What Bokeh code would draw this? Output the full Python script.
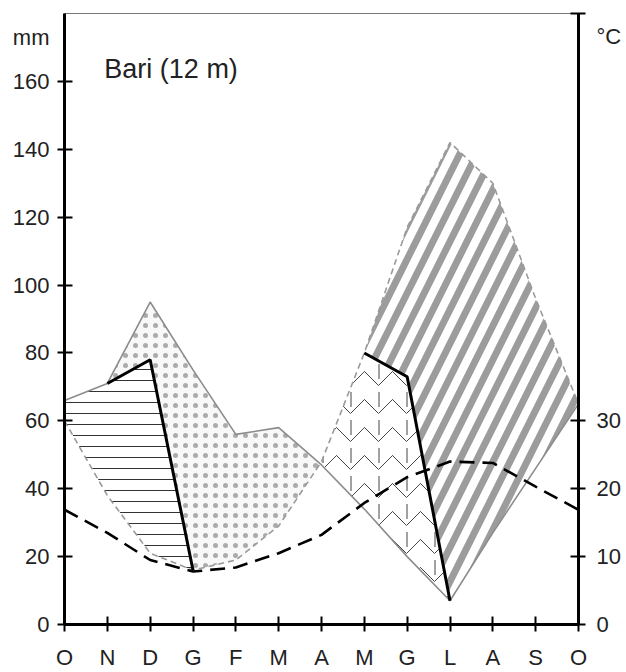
import numpy as np
from bokeh.plotting import figure
from bokeh.models import Range1d, LinearAxis, FixedTicker, Label
from bokeh.embed import file_html
from bokeh.resources import INLINE

# ---- data ----
months = ["O", "N", "D", "G", "F", "M", "A", "M", "G", "L", "A", "S", "O"]
precip = [66, 71, 95, 75, 56, 58, 47, 34, 20, 7, 27, 46, 65]          # mm, thin solid
pet = [60, 38, 21, 16, 19, 29, 48, 80, 117, 142, 130, 96, 65]         # mm, thin dashed
temp = [16.9, 13.5, 9.5, 7.8, 8.4, 10.5, 13.2, 17.9, 21.7, 24.0, 23.8, 20.3, 16.9]  # degC
soil_left_idx = [1, 2, 3]
soil_left = [71, 78, 16]
soil_right_idx = [7, 8, 9]
soil_right = [80, 73, 7]
mm_ticks = [0, 20, 40, 60, 80, 100, 120, 140, 160]
c_ticks = [0, 10, 20, 30]
mm_unit = "mm"
c_unit = "°C"
MM_MAX = 180
C_MAX = 90

x = list(range(len(months)))
P = np.array(precip, dtype=float)
E = np.array(pet, dtype=float)

# crossing of P and PET (surplus -> utilization)
d = P - E
i = next(k for k in range(1, 9) if d[k] > 0 and d[k + 1] <= 0)
t = d[i] / (d[i] - d[i + 1])
xc = i + t
yc = P[i] + t * (P[i + 1] - P[i])

FONT = "Liberation Sans"

p = figure(width=624, height=672, x_range=Range1d(0, 12), y_range=Range1d(0, MM_MAX),
           output_backend="svg", toolbar_location=None,
           min_border_left=64, min_border_right=44, min_border_top=13, min_border_bottom=47)
p.extra_y_ranges = {"temp": Range1d(0, C_MAX)}
p.grid.visible = False
p.outline_line_color = "#777777"
p.outline_line_width = 1
p.background_fill_color = "white"
p.border_fill_color = "white"

# ---- filled areas ----
# recharge (horizontal lines)
rx = [0, 1] + soil_left_idx[1:] + [3, 2, 1, 0]
ry = precip[0:2] + soil_left[1:] + [pet[3], pet[2], pet[1], pet[0]]
p.patch(rx, ry, fill_color="white", line_color=None,
        hatch_pattern="horizontal_line", hatch_color="#333333", hatch_scale=11, hatch_weight=1)

# surplus (stipple)
sx = [1, 2, 3, 4, 5, xc, 5, 4, 3, 2]
sy = precip[1:6] + [yc, pet[5], pet[4], pet[3], soil_left[1]]
p.patch(sx, sy, fill_color="#f8f8f8", line_color=None,
        hatch_pattern="dot", hatch_color="#ababab", hatch_scale=10, hatch_weight=1)

# utilization (honeycomb-like)
ux = [xc, 6, 7, 8, 9, 8, 7, 6]
uy = [yc, pet[6], pet[7], soil_right[1], soil_right[2], precip[8], precip[7], precip[6]]
p.patch(ux, uy, fill_color="white", line_color=None,
        hatch_pattern="horizontal_wave", hatch_color="#444444", hatch_scale=28, hatch_weight=1)
p.patch(ux, uy, fill_alpha=0, line_color=None,
        hatch_pattern="vertical_dash", hatch_color="#444444", hatch_scale=28, hatch_weight=1)

# deficit (diagonal bands)
dx = [7, 8, 9, 10, 11, 12, 12, 11, 10, 9, 8]
dy = pet[7:13] + [precip[12], precip[11], precip[10], precip[9], soil_right[1]]
p.patch(dx, dy, fill_color="white", line_color=None,
        hatch_pattern="right_diagonal_line", hatch_color="#9c9c9c", hatch_scale=34, hatch_weight=7)

# ---- lines ----
p.line(x, precip, line_color="#8c8c8c", line_width=1.6)
p.line(x, pet, line_color="#9a9a9a", line_width=1.6, line_dash="6 4")
p.line(soil_left_idx, soil_left, line_color="black", line_width=3)
p.line(soil_right_idx, soil_right, line_color="black", line_width=3)
p.line(x, temp, y_range_name="temp", line_color="black", line_width=2.6, line_dash="15 8")

# ---- axes ----
def style(ax, fs="22px"):
    ax.axis_line_width = 3
    ax.axis_line_color = "black"
    ax.major_tick_line_width = 2
    ax.major_tick_line_color = "black"
    ax.major_tick_in = 8
    ax.major_tick_out = 7
    ax.minor_tick_line_color = None
    ax.major_label_text_font = FONT
    ax.major_label_text_font_size = fs
    ax.major_label_text_color = "#222222"

xa = p.xaxis[0]
xa.ticker = FixedTicker(ticks=x)
xa.major_label_overrides = {k: months[k] for k in x}
style(xa)
xa.major_label_standoff = 13

# unit captions sit in the tick-label column near the top
ya = p.yaxis[0]
ya.ticker = FixedTicker(ticks=mm_ticks)
ya.major_label_overrides = {mm_ticks[-1]: mm_unit + "\n\n" + str(mm_ticks[-1]) + "\n\n"}
style(ya)
ya.major_label_text_line_height = 0.87
ya.major_label_standoff = 8

ra = LinearAxis(y_range_name="temp", ticker=FixedTicker(ticks=c_ticks + [C_MAX]))
ra.major_label_overrides = {C_MAX: "\n" + c_unit}
style(ra)
ra.major_label_text_line_height = 0.95
ra.major_label_standoff = 11
p.add_layout(ra, "right")

# ---- station name ----
p.add_layout(Label(x=0.93, y=163.6, text="Bari (12 m)", text_font=FONT, text_font_size="27px",
                   text_color="#222222", text_align="left", text_baseline="alphabetic"))

open("out.html", "w").write(file_html(p, INLINE))
